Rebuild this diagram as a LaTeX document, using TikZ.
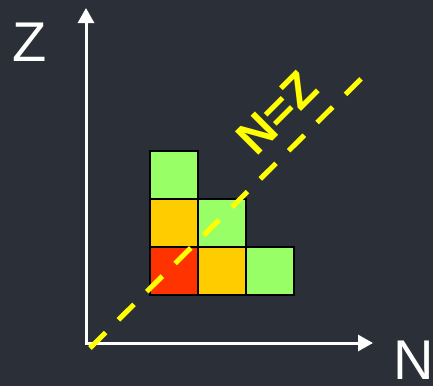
\documentclass[tikz,border=0pt]{standalone}
\usepackage{fontspec}
\setmainfont{Liberation Sans}
\usetikzlibrary{arrows.meta}
\definecolor{slatebg}{HTML}{2B3038}
\definecolor{cellred}{HTML}{FF3300}
\definecolor{cellorange}{HTML}{FFCC00}
\definecolor{cellgreen}{HTML}{99FF66}
\definecolor{nzyellow}{HTML}{FFFF00}

\begin{document}
\begin{tikzpicture}[
  x=1pt,y=-1pt,
  cell/.style={draw=black,line width=2pt,minimum size=48pt,inner sep=0pt},
  axis/.style={draw=white,line width=3pt,-{Triangle[length=15pt,width=16pt]}},
  axlabel/.style={text=white,font=\fontsize{56}{56}\selectfont,inner sep=0pt}
]
\fill[slatebg] (0,0) rectangle (433,386);
\useasboundingbox (0,0) rectangle (433,386);
% axes
\coordinate (origin) at (86,343);
\coordinate (ztip) at (86,8);
\coordinate (ntip) at (373,343);
\draw[axis] ([yshift=-1.5pt]origin) -- (ztip);
\draw[axis] ([xshift=-1.5pt]origin) -- (ntip);
\node[axlabel] (zlabel) at (30,42) {Z};
\node[axlabel] (nlabel) at (414,360) {N};
% nuclei
\node[cell,fill=cellred] (c00) at (174,271) {};
\node[cell,fill=cellorange] (c10) at (222,271) {};
\node[cell,fill=cellgreen] (c20) at (270,271) {};
\node[cell,fill=cellorange] (c01) at (174,223) {};
\node[cell,fill=cellgreen] (c11) at (222,223) {};
\node[cell,fill=cellgreen] (c02) at (174,175) {};
% N=Z line
\coordinate (nzstart) at (90,348);
\coordinate (nzend) at (370,70);
\draw[nzyellow,line width=5pt,dash pattern=on 22pt off 18pt] (nzstart) -- (nzend);
\node[text=nzyellow,font=\fontsize{48}{48}\selectfont\bfseries,rotate=45,inner sep=0pt] (nzlabel) at (277,113) {N=Z};
\end{tikzpicture}
\end{document}
